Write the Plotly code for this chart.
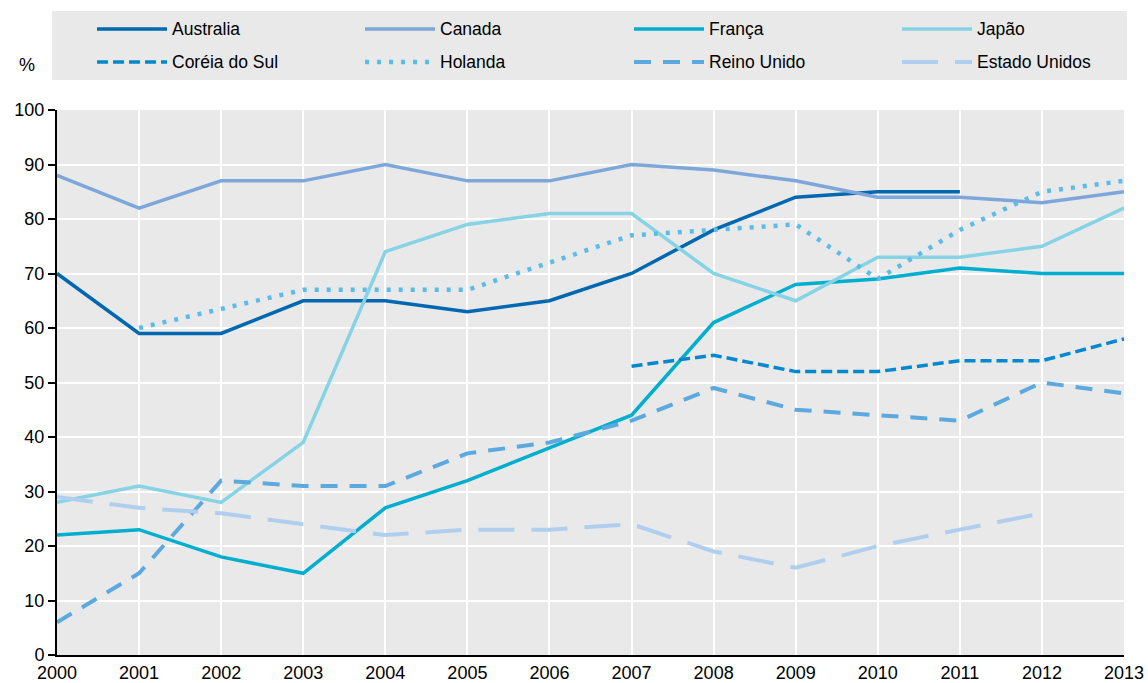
import plotly.graph_objects as go

years = list(range(2000, 2014))

australia = [70, 59, 59, 65, 65, 63, 65, 70, 78, 84, 85, 85, None, None]
canada = [88, 82, 87, 87, 90, 87, 87, 90, 89, 87, 84, 84, 83, 85]
franca = [22, 23, 18, 15, 27, 32, 38, 44, 61, 68, 69, 71, 70, 70]
japao = [28, 31, 28, 39, 74, 79, 81, 81, 70, 65, 73, 73, 75, 82]
coreia = [None, None, None, None, None, None, None, 53, 55, 52, 52, 54, 54, 58]
holanda = [None, 60, 63.5, 67, 67, 67, 72, 77, 78, 79, 69, 78, 85, 87]
reino_unido = [6, 15, 32, 31, 31, 37, 39, 43, 49, 45, 44, 43, 50, 48]
estados_unidos = [29, 27, 26, 24, 22, 23, 23, 24, 19, 16, 20, 23, 26, None]

series = [
    ("Australia", australia, "#0067B1", "solid", 3.5),
    ("Canada", canada, "#7DA7DA", "solid", 3.5),
    ("França", franca, "#00AECF", "solid", 3.5),
    ("Japão", japao, "#86D3E5", "solid", 3.5),
    ("Coréia do Sul", coreia, "#0288D1", "11px,5px", 3.5),
    ("Holanda", holanda, "#5BBCEB", "4px,8px", 4.5),
    ("Reino Unido", reino_unido, "#5CA9E0", "17px,12px", 4),
    ("Estado Unidos", estados_unidos, "#B0CFEF", "36px,17px", 4),
]

FONT = "Liberation Sans Narrow, Arial Narrow, Liberation Sans, Arial, sans-serif"

fig = go.Figure()
for name, vals, color, dash, w in series:
    fig.add_trace(go.Scatter(
        x=years, y=vals, mode="lines", name=name,
        line=dict(color=color, width=w, dash=dash),
        connectgaps=False, showlegend=False,
    ))

FW, FH = 1148, 683
L, R, T, B = 57, 1124, 110, 655   # plot area in pixels
W, H = R - L, B - T
def px(x):
    return (x - L) / W
def py(y):
    return (B - y) / H

shapes = [dict(type="rect", xref="paper", yref="paper",
               x0=px(52), x1=px(1127), y0=py(80), y1=py(11),
               fillcolor="#E9E9E9", line=dict(width=0), layer="below")]
annotations = []
col_x = [97, 365, 634, 902]
row_y = [29, 62]
for i, (name, vals, color, dash, w) in enumerate(series):
    c, r = i % 4, i // 4
    x0 = col_x[c]
    y0 = row_y[r]
    shapes.append(dict(type="line", xref="paper", yref="paper",
                       x0=px(x0), x1=px(x0 + 70), y0=py(y0), y1=py(y0),
                       line=dict(color=color, width=w, dash=dash)))
    annotations.append(dict(xref="paper", yref="paper", x=px(x0 + 73), y=py(y0),
                            text=name, showarrow=False, xanchor="left", yanchor="middle",
                            font=dict(family=FONT, size=17.5, color="#000000")))
annotations.append(dict(xref="paper", yref="paper", x=px(27), y=py(65), text="%",
                        showarrow=False, xanchor="center", yanchor="middle",
                        font=dict(family=FONT, size=18, color="#000000")))

fig.update_layout(
    width=FW, height=FH,
    margin=dict(l=L, r=FW - R, t=T, b=FH - B, pad=0, autoexpand=False),
    paper_bgcolor="#FFFFFF", plot_bgcolor="#E9E9E9",
    font=dict(family=FONT, size=18, color="#000000"),
    shapes=shapes, annotations=annotations,
    showlegend=False,
)
fig.update_xaxes(range=[2000, 2013], tickmode="array", tickvals=years,
                 ticktext=[str(y) for y in years], automargin=False,
                 showgrid=True, gridcolor="#FFFFFF", gridwidth=2,
                 showline=True, linecolor="#000000", linewidth=2,
                 ticks="", zeroline=False, tickfont=dict(size=18))
fig.update_yaxes(range=[0, 100], tickvals=list(range(0, 101, 10)), automargin=False,
                 showgrid=True, gridcolor="#FFFFFF", gridwidth=2,
                 showline=True, linecolor="#000000", linewidth=2,
                 ticks="outside", ticklen=7, tickcolor="#000000", tickwidth=2,
                 zeroline=False, tickfont=dict(size=18))

fig.write_html("out.html", config={"displayModeBar": False},
               post_script="document.body.style.margin='0';document.body.style.overflow='hidden';")
